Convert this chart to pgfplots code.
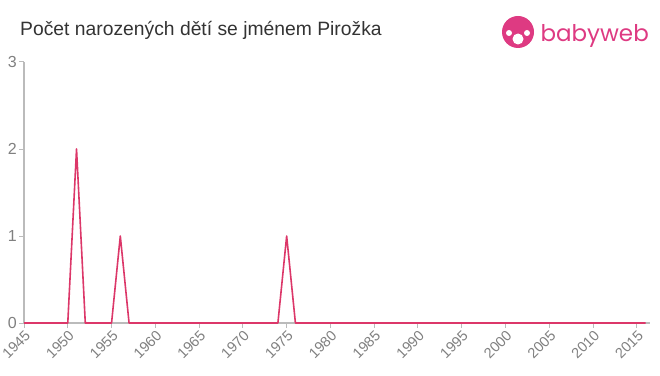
\documentclass[border=0pt]{standalone}
\usepackage{pgfplots}
\pgfplotsset{compat=1.18}
\usepackage{fontspec}
\setmainfont{Liberation Sans}
\newfontfamily\logofont{Poppins}
\definecolor{linec}{RGB}{220,55,105}
\definecolor{logoc}{RGB}{222,58,130}
\definecolor{axc}{RGB}{187,187,187}
\definecolor{tickc}{RGB}{128,128,128}
\definecolor{titc}{RGB}{51,51,51}
\begin{document}
\begin{tikzpicture}[x=1pt,y=1pt]
\path[use as bounding box] (0,0) rectangle (660,375);
\node[anchor=base west,text=titc,font=\fontsize{19.3}{22}\selectfont,inner sep=0pt] at (20,339) {Počet narozených dětí se jménem Pirožka};
\begin{axis}[
  at={(24pt,52pt)}, anchor=south west,
  scale only axis, width=626pt, height=261pt,
  xmin=1945, xmax=2016.5, ymin=0, ymax=3,
  axis x line*=bottom, axis y line*=left,
  axis line style={axc, line width=1.2pt},
  xtick={1945,1950,...,2015}, ytick={0,1,2,3},
  tick style={axc, line width=1pt},
  major tick length=5pt,
  tick align=outside,
  xticklabel style={rotate=45, anchor=north east, text=tickc, font=\fontsize{14.5}{16}\selectfont, inner sep=1pt},
  yticklabel style={text=tickc, font=\fontsize{16}{18}\selectfont, inner sep=2pt},
  /pgf/number format/assume math mode=true,
  /pgf/number format/set thousands separator={},
  clip=false,
]
\addplot[linec, line width=1.6pt, line join=round] coordinates {
(1945,0)(1950,0)(1951,2)(1952,0)(1955,0)(1956,1)(1957,0)(1974,0)(1975,1)(1976,0)(2016,0)
};
\end{axis}
% logo
\fill[logoc] (518,343) circle (16);
\fill[white] (518,336) circle (5.5);
\fill[white] (509,342) circle (3);
\fill[white] (527,342) circle (3);
\node[anchor=base west,text=logoc,font=\logofont\fontsize{23}{26}\selectfont] at (537,333) {babyweb};
\end{tikzpicture}
\end{document}
